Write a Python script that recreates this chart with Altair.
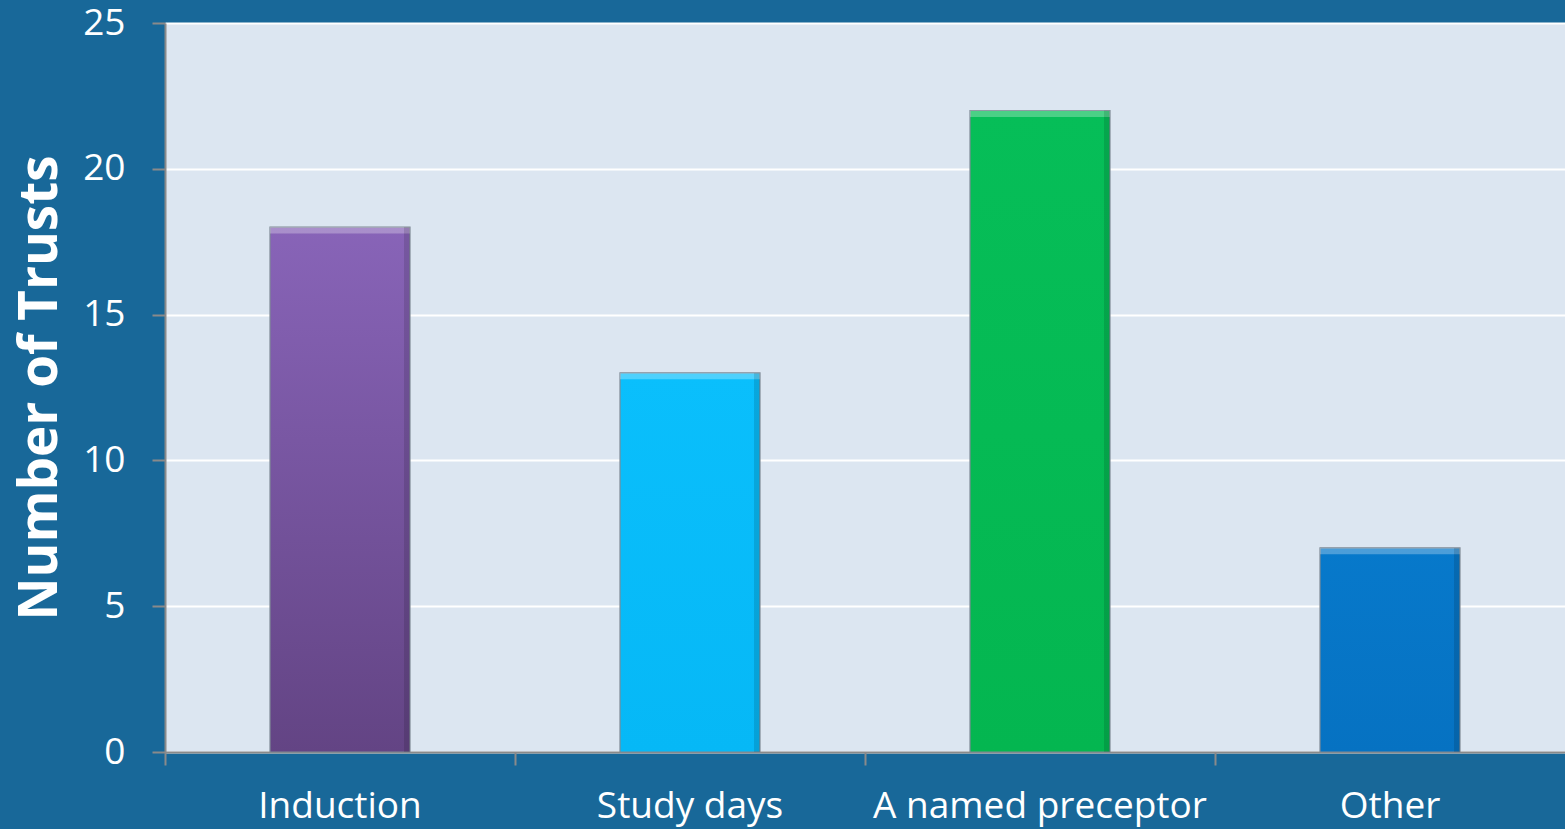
import altair as alt
import pandas as pd

# Survey answers: support offered to new starters
categories = ["Induction", "Study days", "A named preceptor", "Other"]
trusts = [18, 13, 22, 7]
top_colors = ["#8864b8", "#0abffc", "#06be58", "#0779cb"]
bottom_colors = ["#634484", "#06b8f6", "#04b650", "#0672c2"]

df = pd.DataFrame({"category": categories, "trusts": trusts})

FONT = "Open Sans"

x_enc = alt.X(
    "category:N",
    sort=categories,
    title=None,
    scale=alt.Scale(paddingInner=0, paddingOuter=0),
    axis=alt.Axis(
        bandPosition=0,
        labelAngle=0,
        labelFont=FONT,
        labelFontSize=37,
        labelColor="white",
        labelPadding=23,
        labelLimit=0,
        tickSize=13,
        tickColor="#8a8a8a",
        tickWidth=2,
        domainColor="#8a8a8a",
        domainWidth=2,
        grid=False,
    ),
)

y_enc = alt.Y(
    "trusts:Q",
    title="Number of Trusts",
    scale=alt.Scale(domain=[0, 25], nice=False),
    axis=alt.Axis(
        values=[0, 5, 10, 15, 20, 25],
        labelFont=FONT,
        labelFontSize=37,
        labelColor="white",
        labelPadding=27,
        tickSize=13,
        tickColor="#8a8a8a",
        tickWidth=2,
        domainColor="#8a8a8a",
        domainWidth=2,
        gridColor="white",
        gridWidth=2,
        titleFont=FONT,
        titleFontSize=53,
        titleFontWeight="bold",
        titleColor="white",
        titlePadding=15,
    ),
)

layers = []
for cat, c_top, c_bot in zip(categories, top_colors, bottom_colors):
    grad = alt.Gradient(
        gradient="linear",
        x1=0, y1=0, x2=0, y2=1,
        stops=[alt.GradientStop(color=c_top, offset=0),
               alt.GradientStop(color=c_bot, offset=1)],
    )
    layers.append(
        alt.Chart(df)
        .transform_filter(alt.datum.category == cat)
        .mark_bar(color=grad, width=alt.RelativeBandSize(0.4),
                  stroke="#7f8a96", strokeWidth=1.2)
        .encode(x=x_enc, y=y_enc)
    )

# bevel highlight along the top of each bar
highlight = (
    alt.Chart(df)
    .transform_calculate(cap="datum.trusts - 0.22")
    .mark_bar(color="white", opacity=0.28, width=alt.RelativeBandSize(0.4))
    .encode(x=x_enc, y=y_enc, y2="cap:Q")
)

# darker right-hand edge shading
shade = (
    alt.Chart(df)
    .mark_bar(color="black", opacity=0.12, width=6, xOffset=67)
    .encode(x=x_enc, y=y_enc)
)

chart = (
    alt.layer(*layers, highlight, shade)
    .properties(
        width=1400,
        height=729,
        background="#186899",
        padding={"left": 165, "top": 23, "right": 0, "bottom": 77},
        autosize=alt.AutoSizeParams(type="none"),
    )
    .configure_view(fill="#dce6f1", strokeWidth=0)
)

chart.save("out.html", embed_options={"renderer": "svg", "actions": False})
